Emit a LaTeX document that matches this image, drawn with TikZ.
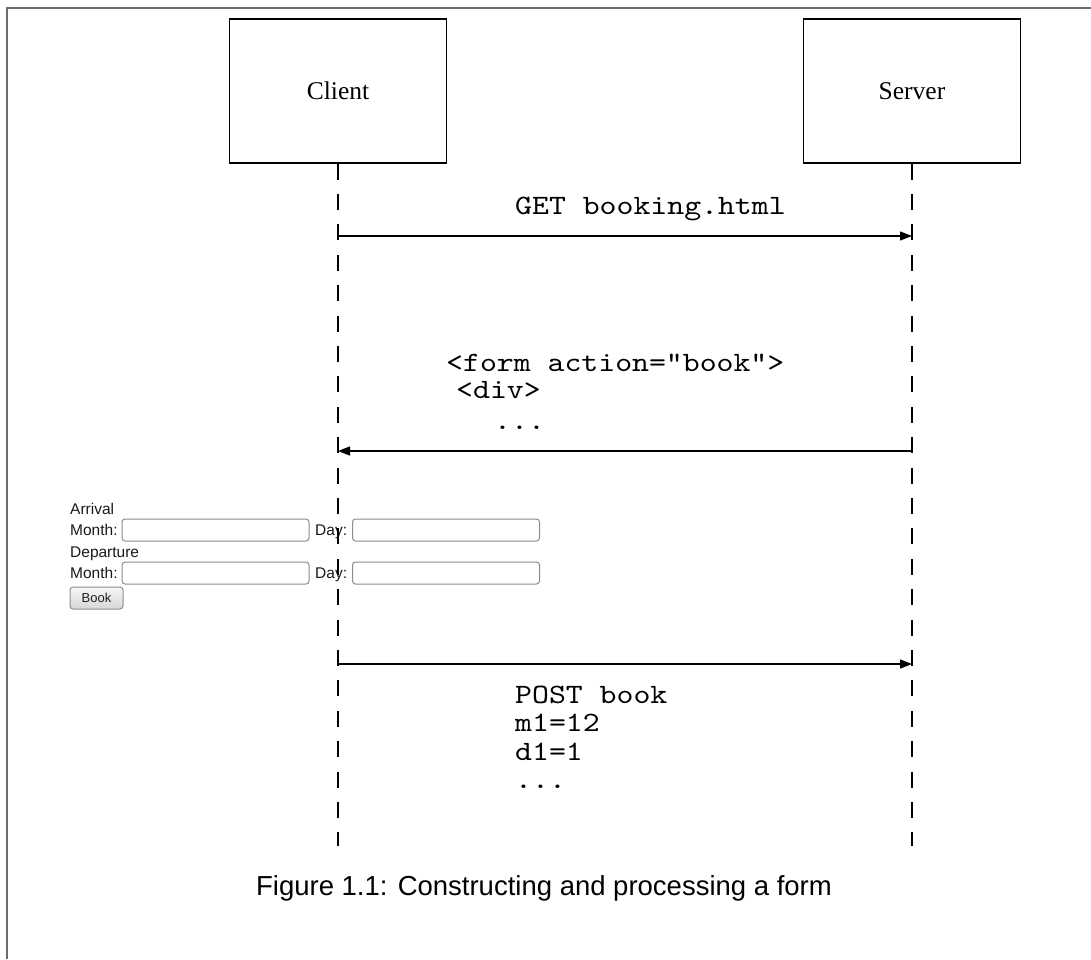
\documentclass[tikz,border=0pt]{standalone}
\usepackage{fontspec}
\setmainfont{Liberation Serif}
\setsansfont{Liberation Sans}
\usetikzlibrary{arrows.meta}

% widened typewriter face for the HTTP messages
\newfontfamily\msgfamily{lmmono10-regular}[Extension=.otf, FakeStretch=1.15]
\newcommand{\msgfont}{\msgfamily\fontsize{28}{28.5}\selectfont}

\begin{document}
\begin{tikzpicture}[x=1pt,y=-1pt,
  actor/.style={draw, line width=1.3pt, minimum width=217pt, minimum height=144pt,
    inner sep=0pt, font=\fontsize{25.5}{30}\selectfont},
  lifeline/.style={line width=1.3pt, dash pattern=on 16pt off 14.4pt},
  msg/.style={line width=1.2pt, -{Triangle[length=12pt,width=9pt]}},
  code/.style={font=\msgfont, anchor=base west, align=left, inner sep=0pt},
  ui/.style={font=\sffamily\fontsize{15.5}{17}\selectfont, text=black!90, anchor=base west, inner sep=0pt},
  field/.style={draw=black!45, line width=1pt, rounded corners=3pt, fill=white,
    minimum width=187pt, minimum height=22pt, inner sep=0pt},
  btn/.style={draw=black!45, line width=1pt, rounded corners=3pt,
    top color=white!97!black, bottom color=black!16,
    minimum width=53pt, minimum height=22pt, inner sep=0pt,
    font=\sffamily\fontsize{13}{15}\selectfont, text=black!88},
  caption/.style={font=\sffamily\fontsize{27.5}{30}\selectfont, anchor=base, inner sep=0pt}
]
\useasboundingbox (0,0) rectangle (1091,959);

% page frame (only top and left edges fall inside the picture)
\draw[black!58, line width=2pt] (7,959) -- (7,8) -- (1091,8);

% participants
\node[actor] (client) at (338,91) {Client};
\node[actor] (server) at (912,91) {Server};

% rendered booking form beside the client
\node[ui] (arrival) at (70,514.5) {Arrival};
\node[ui] (month1) at (70,535.5) {Month:};
\node[field] (m1box) at (215.5,530) {};
\node[ui] (day1) at (315,535.5) {Day:};
\node[field] (d1box) at (446,530) {};
\node[ui] (departure) at (70,557.5) {Departure};
\node[ui] (month2) at (70,578.5) {Month:};
\node[field] (m2box) at (215.5,573) {};
\node[ui] (day2) at (315,578.5) {Day:};
\node[field] (d2box) at (446,573) {};
\node[btn] (bookbtn) at (96.5,598) {Book};

% lifelines
\coordinate (clientEnd) at (338,846);
\coordinate (serverEnd) at (912,846);
\draw[lifeline] (client.south) -- (clientEnd);
\draw[lifeline] (server.south) -- (serverEnd);

% message anchors on the lifelines
\coordinate (cGet)  at (338,236);
\coordinate (sGet)  at (912,236);
\coordinate (cForm) at (338,451);
\coordinate (sForm) at (912,451);
\coordinate (cPost) at (338,664);
\coordinate (sPost) at (912,664);

% messages (a multi-line node's base is its last line)
\draw[msg] (cGet) -- (sGet);
\node[code] (getlbl) at (515,214) {GET booking.html};

\draw[msg] (sForm) -- (cForm);
\node[code] (formtxt) at (446,429)
  {<form action="book">\\[-1.5pt]\hspace*{10pt}<div>\\[2.5pt]\hspace*{48pt}...};

\draw[msg] (cPost) -- (sPost);
\node[code] (posttxt) at (515,788.5) {POST book\\m1=12\\d1=1\\...};

% caption
\node[caption] (figcap) at (544,895) {Figure 1.1: Constructing and processing a form};
\end{tikzpicture}
\end{document}
